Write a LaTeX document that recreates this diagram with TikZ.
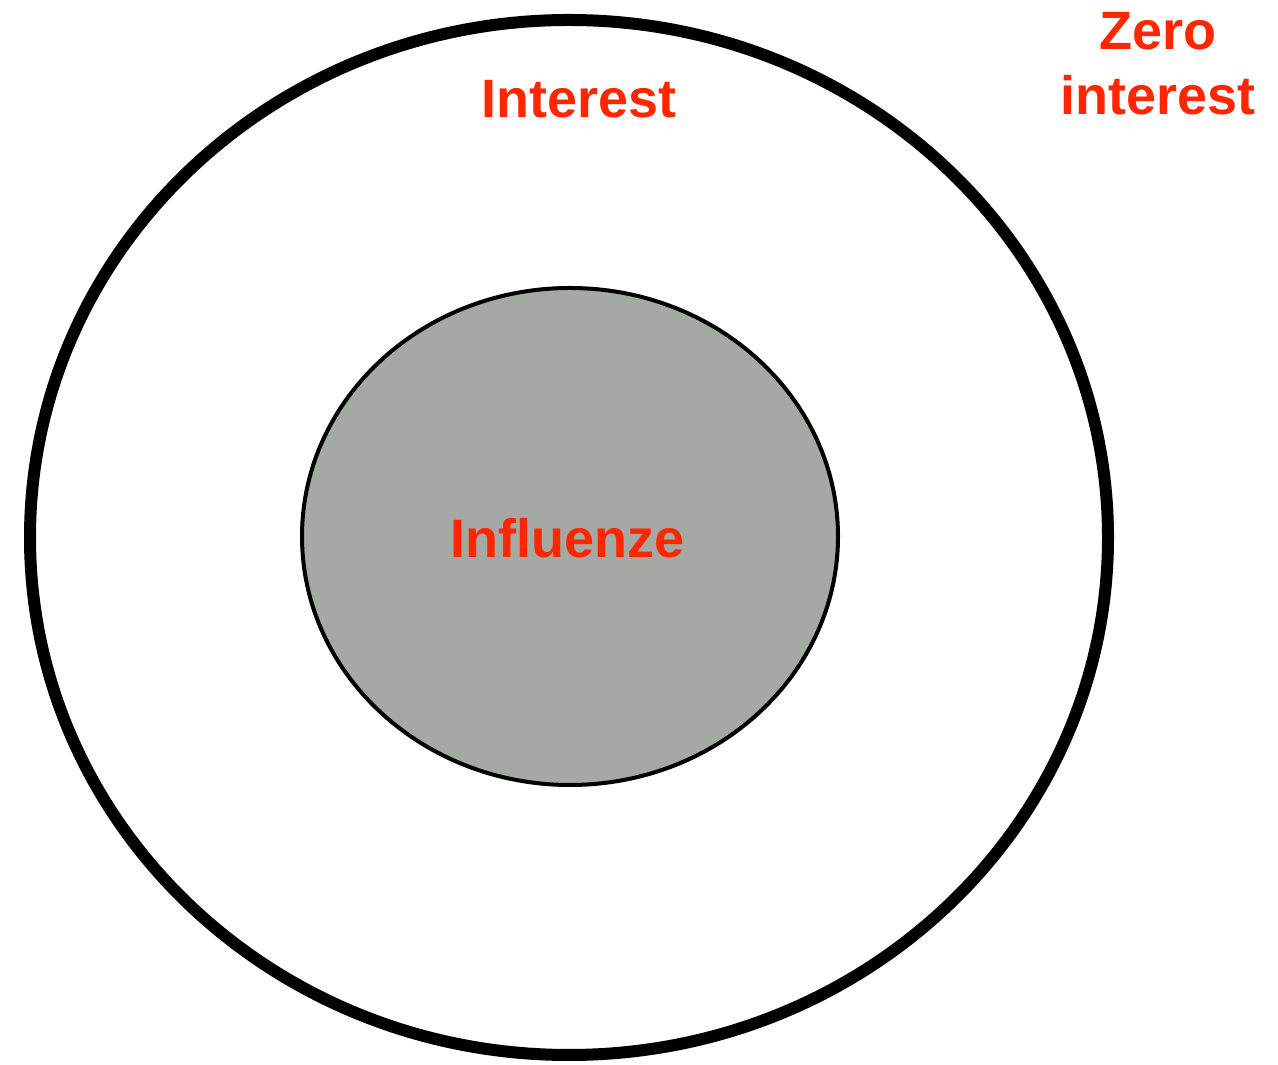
\documentclass[tikz,border=0pt]{standalone}
\usepackage{fontspec}
\setmainfont{Liberation Sans}
\definecolor{labelred}{HTML}{FF2600}
\definecolor{coregray}{HTML}{A5A9A3}
\begin{document}
\begin{tikzpicture}[x=1pt,y=1pt,
  lbl/.style={text=labelred,font=\fontsize{54}{65}\selectfont\bfseries,inner sep=0pt,anchor=base,align=center}]
\useasboundingbox (0,0) rectangle (1278,1065);
\fill[white] (0,0) rectangle (1278,1065);
% outer ring
\draw[line width=12pt,black] (569,527.5) ellipse [x radius=539,y radius=517.5];
% inner core
\filldraw[fill=coregray,draw=black,line width=4pt] (570,528.5) ellipse [x radius=268,y radius=248.5];
\node[lbl] (interest) at (579,947) {Interest};
\node[lbl] (influenze) at (567.5,507) {Influenze};
\node[lbl] (zero) at (1158,1015) {Zero};
\node[lbl] (zerointerest) at (1158,950) {interest};
\end{tikzpicture}
\end{document}
